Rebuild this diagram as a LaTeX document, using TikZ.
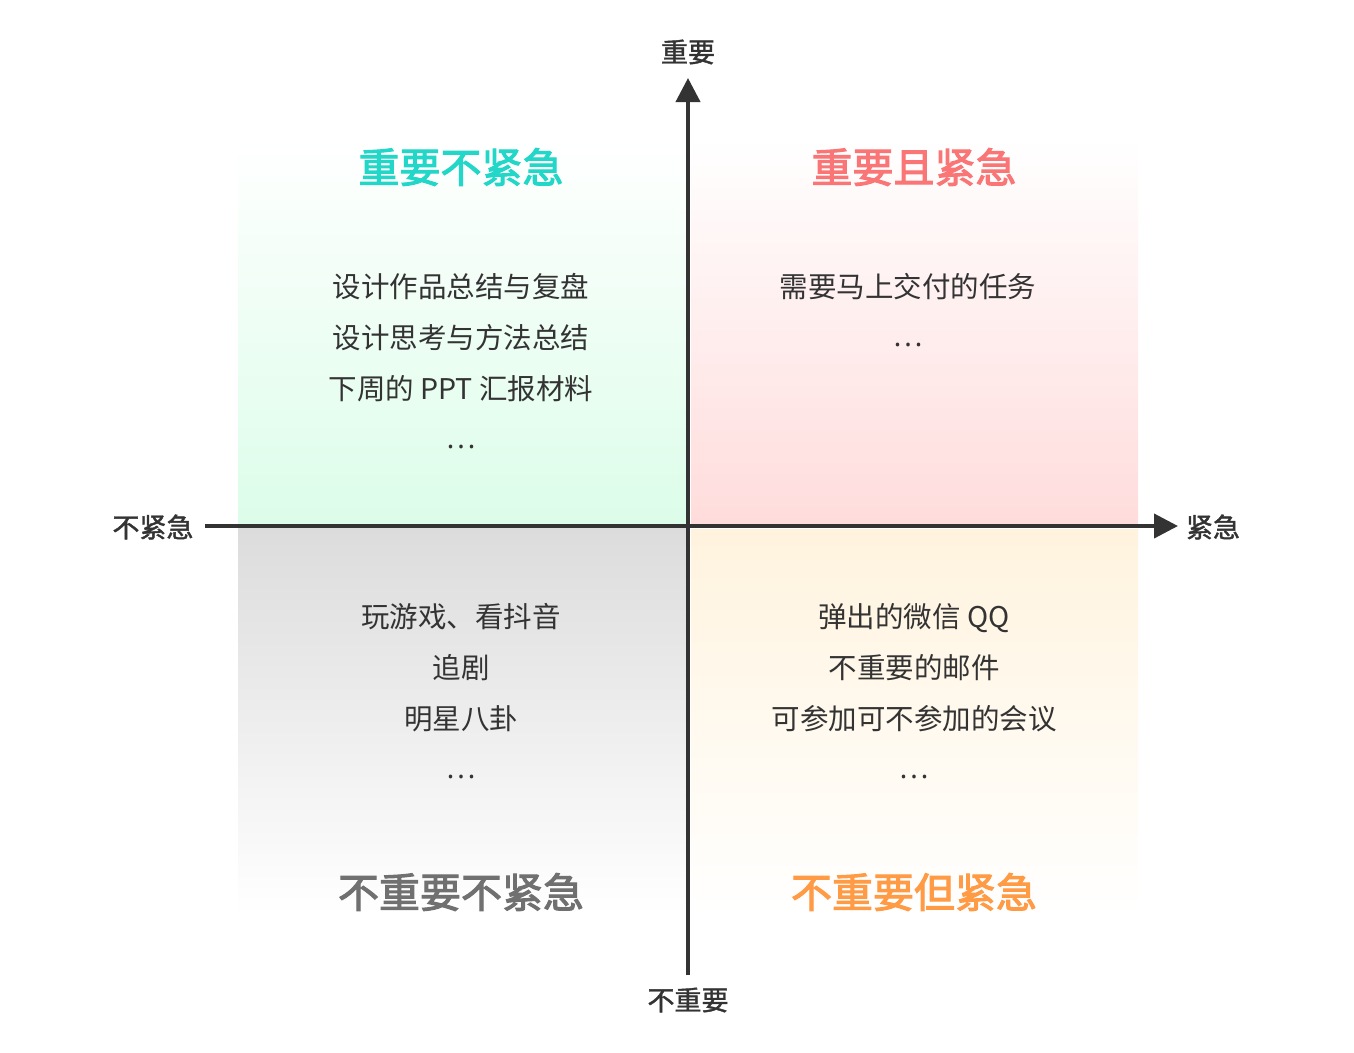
\documentclass[tikz,border=0pt]{standalone}
\usepackage{fontspec}
\setmainfont{Noto Sans CJK SC}
\newfontfamily\latinfont{Noto Sans}
\newfontfamily\titlefont[FakeBold=2.5]{Noto Sans CJK SC}
\newfontfamily\labelfont[FakeBold=1.5]{Noto Sans CJK SC}
\usetikzlibrary{arrows.meta}
\definecolor{axisc}{HTML}{333333}
\definecolor{greenbg}{HTML}{DCFDE9}
\definecolor{pinkbg}{HTML}{FFDCDC}
\definecolor{graybg}{HTML}{DCDCDC}
\definecolor{yellowbg}{HTML}{FFF3DE}
\definecolor{tealt}{HTML}{22D6C8}
\definecolor{pinkt}{HTML}{FA7676}
\definecolor{grayt}{HTML}{707070}
\definecolor{oranget}{HTML}{FF9A45}
\tikzset{
  axisline/.style={line width=4pt, draw=axisc, -{Triangle[length=24pt,width=24pt]}},
  axislabel/.style={font=\fontsize{27}{32}\selectfont\labelfont, text=axisc, inner sep=0pt},
  qtitle/.style={font=\fontsize{41}{48}\selectfont\titlefont, inner sep=0pt},
  items/.style={font=\fontsize{28.5}{51}\selectfont, text=axisc, align=center, inner sep=0pt},
  dots/.style={font=\fontsize{28}{32}\selectfont\latinfont, text=axisc, inner sep=0pt},
}
\begin{document}
\begin{tikzpicture}[x=1pt,y=-1pt]
\useasboundingbox (0,0) rectangle (1354,1052);
% quadrant backgrounds
\shade[top color=white, bottom color=greenbg] (238,138) rectangle (686,524);
\shade[top color=white, bottom color=pinkbg] (691,138) rectangle (1138,523);
\shade[top color=graybg, bottom color=white] (238,528) rectangle (686,915);
\shade[top color=yellowbg, bottom color=white] (691,529) rectangle (1138,915);
% axes
\coordinate (vbot) at (688,975);
\coordinate (vtop) at (688,78);
\coordinate (hleft) at (205,526);
\coordinate (hright) at (1178,526);
\draw[axisline] (hleft) -- (hright);
\draw[axisline] (vbot) -- (vtop);
% axis labels
\node[axislabel] (limp) at (688,52) {重要};
\node[axislabel] (lnimp) at (688,1000) {不重要};
\node[axislabel] (lnurg) at (153,527) {不紧急};
\node[axislabel] (lurg) at (1213,527) {紧急};
% titles
\node[qtitle, text=tealt] (t1) at (461,167) {重要不紧急};
\node[qtitle, text=pinkt] (t2) at (914,167) {重要且紧急};
\node[qtitle, text=grayt] (t3) at (461,892) {不重要不紧急};
\node[qtitle, text=oranget] (t4) at (914,892) {不重要但紧急};
% items
\node[items] (i1) at (461,338) {设计作品总结与复盘\\设计思考与方法总结\\下周的 PPT 汇报材料};
\node[dots] (d1) at (461,447) {.\kern3pt.\kern3pt.};
\node[items] (i2) at (908,287) {需要马上交付的任务};
\node[dots] (d2) at (908,345) {.\kern3pt.\kern3pt.};
\node[items] (i3) at (461,668) {玩游戏、看抖音\\追剧\\明星八卦};
\node[dots] (d3) at (461,777) {.\kern3pt.\kern3pt.};
\node[items] (i4) at (914,668) {弹出的微信 QQ\\不重要的邮件\\可参加可不参加的会议};
\node[dots] (d4) at (914,777) {.\kern3pt.\kern3pt.};
\end{tikzpicture}
\end{document}
